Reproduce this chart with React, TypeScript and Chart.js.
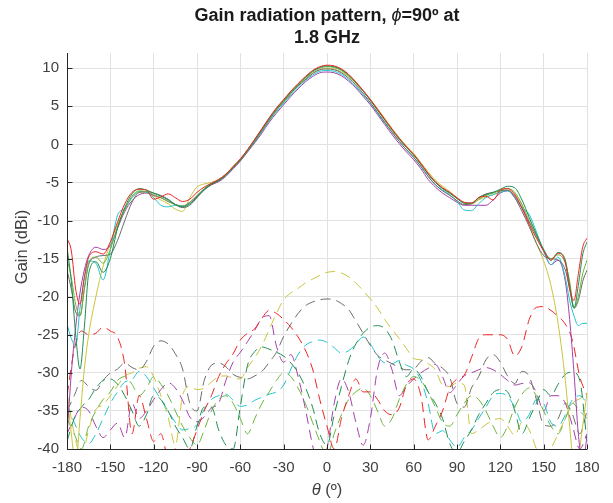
import React, { useEffect, useRef } from 'react';
import { Chart, registerables } from 'chart.js';
Chart.register(...registerables);

// ---------- data ----------
const TITLE_LINE1_A = 'Gain radiation pattern, ';
const TITLE_LINE1_PHI = 'ϕ';
const TITLE_LINE1_B = '=90º at';
const TITLE_LINE2 = '1.8 GHz';
const X_LABEL_SYM = 'θ';
const X_LABEL_REST = ' (º)';
const Y_LABEL = 'Gain (dBi)';

const X_TICKS = [-180, -150, -120, -90, -60, -30, 0, 30, 60, 90, 120, 150, 180];
const Y_TICKS = [-40, -35, -30, -25, -20, -15, -10, -5, 0, 5, 10];
const Y_MIN = -40;
const Y_MAX = 12;

// co-polar (solid) angle grid
const S_THETA = [
  -180, -177, -174, -171, -168,
  -165, -160, -155, -150, -145, -140, -135, -130, -125, -120, -115, -110,
  -105, -100, -95, -90, -85, -80, -75, -70, -65, -60, -55, -50,
  -45, -40, -35, -30, -25, -20, -15, -10, -5, 0, 5, 10,
  15, 20, 25, 30, 35, 40, 45, 50, 55, 60, 65, 70,
  75, 80, 85, 90, 95, 100, 105, 110, 115, 120, 125, 130,
  135, 140, 145, 150, 155, 160, 165,
  168, 171, 174, 177, 180,
];

const RED_CO = [
  -12.3, -14, -19, -21, -17.5,
  -14.8, -14.1, -14.4, -12.8, -10.2, -7.8, -6.3, -5.9, -6.0, -7.2, -6.9, -6.5,
  -7.0, -7.5, -7.2, -6.3, -5.6, -5.1, -4.6, -3.9, -2.9, -1.9, -0.7, 0.7,
  2.1, 3.5, 4.8, 5.9, 7.0, 8.0, 8.9, 9.7, 10.2, 10.4, 10.3, 9.9,
  9.2, 8.2, 7.1, 5.9, 4.6, 3.3, 2.0, 0.8, -0.3, -1.3, -2.5, -3.8,
  -4.9, -5.7, -6.3, -7.0, -7.6, -7.7, -7.0, -6.8, -7.3, -6.0, -5.8, -6.6,
  -8.4, -10.5, -12.3, -14.0, -15.2, -14.3, -15.5,
  -19, -20.5, -17, -13.5, -12.3,
];
const DKGREEN_CO = [
  -13.5, -18, -25, -29.5, -24,
  -17, -15.4, -16.8, -15, -11, -8.3, -6.5, -5.8, -6.0, -6.4, -6.8, -7.3,
  -7.9, -8.2, -7.8, -6.9, -5.9, -5.2, -4.7, -4.0, -3.0, -2.0, -0.7, 0.6,
  2.0, 3.4, 4.7, 5.8, 6.9, 7.9, 8.8, 9.6, 10.1, 10.3, 10.2, 9.8,
  9.1, 8.1, 7.0, 5.8, 4.5, 3.2, 1.9, 0.7, -0.4, -1.4, -2.6, -3.9,
  -5.0, -5.8, -6.4, -7.1, -7.7, -7.7, -7.0, -6.6, -6.3, -5.9, -5.5, -5.7,
  -7.3, -9.6, -11.8, -13.8, -15.2, -14.2, -15.2,
  -18.5, -21.5, -18.5, -14.5, -12.8,
];
const LTGREEN_CO = [
  -15.0, -17.5, -21, -22.5, -19,
  -15.5, -14.8, -15.6, -13.8, -10.8, -8.6, -6.8, -6.1, -6.2, -6.6, -7.0, -7.5,
  -7.9, -8.1, -7.6, -6.7, -5.8, -5.1, -4.7, -4.0, -3.0, -2.0, -0.8, 0.5,
  1.9, 3.3, 4.6, 5.7, 6.8, 7.8, 8.7, 9.5, 10.0, 10.2, 10.1, 9.7,
  9.0, 8.1, 7.0, 5.8, 4.5, 3.2, 1.9, 0.7, -0.4, -1.4, -2.6, -3.9,
  -5.0, -5.8, -6.4, -7.1, -7.7, -7.8, -7.2, -6.7, -6.4, -6.0, -5.8, -6.3,
  -7.9, -10.0, -12.0, -13.9, -15.0, -14.5, -15.6,
  -18, -21.5, -20, -17, -15.2,
];
const GRAY_CO = [
  -16.5, -19, -22, -22.5, -19,
  -15.8, -14.8, -14.6, -14.4, -12.6, -10.0, -7.6, -6.3, -6.2, -6.4, -6.7, -7.2,
  -7.9, -8.3, -8.0, -7.0, -6.0, -5.3, -4.8, -4.1, -3.1, -2.1, -0.9, 0.4,
  1.8, 3.2, 4.5, 5.6, 6.7, 7.7, 8.5, 9.3, 9.8, 9.9, 9.8, 9.4,
  8.7, 7.8, 6.7, 5.5, 4.2, 2.9, 1.6, 0.4, -0.7, -1.7, -2.9, -4.2,
  -5.3, -6.1, -6.7, -7.4, -7.9, -7.8, -7.0, -6.5, -6.3, -6.1, -6.0, -7.0,
  -8.8, -10.8, -13.0, -14.6, -15.0, -15.2, -16.5,
  -19, -21.5, -20.5, -18, -16.5,
];
const CYAN_CO = [
  -23.6, -25.5, -26.5, -21.5, -17.5,
  -15.3, -15.6, -17.8, -13.8, -9.3, -8.4, -7.0, -6.2, -6.3, -7.0, -8.0, -8.2,
  -8.0, -8.1, -7.8, -6.9, -5.9, -5.2, -4.8, -4.1, -3.1, -2.1, -0.9, 0.3,
  1.7, 3.1, 4.3, 5.4, 6.5, 7.5, 8.4, 9.1, 9.6, 9.7, 9.6, 9.2,
  8.5, 7.6, 6.5, 5.4, 4.1, 2.8, 1.6, 0.4, -0.7, -1.7, -2.9, -4.2,
  -5.3, -6.0, -6.6, -7.5, -8.6, -8.7, -7.8, -7.0, -6.6, -6.3, -6.1, -7.0,
  -8.3, -9.2, -11.5, -14.0, -15.8, -14.8, -17.5,
  -20.5, -22.5, -23.8, -23.5, -23.5,
];
const MAGENTA_CO = [
  -38.3, -30, -24, -19.5, -16.5,
  -14.6, -13.5, -13.8, -13.3, -11.0, -8.8, -7.4, -6.6, -6.4, -6.7, -7.0, -7.5,
  -7.9, -8.1, -7.6, -6.8, -5.9, -5.3, -4.9, -4.2, -3.2, -2.2, -1.0, 0.2,
  1.5, 2.9, 4.1, 5.2, 6.3, 7.3, 8.2, 8.9, 9.4, 9.5, 9.4, 9.0,
  8.3, 7.4, 6.3, 5.2, 3.9, 2.6, 1.3, 0.1, -1.0, -2.0, -3.2, -4.6,
  -5.6, -6.4, -7.0, -7.6, -8.0, -8.0, -8.0, -8.0, -7.3, -6.4, -6.1, -6.8,
  -8.3, -10.2, -12.0, -14.0, -15.8, -15.2, -18,
  -23, -30, -38, -42, -38.3,
];
const YELLOW_CO = [
  -32.6, -38, -42, -36, -29.5,
  -25, -20, -16, -13, -10.5, -8.5, -7.0, -6.3, -6.3, -6.8, -7.3, -7.8,
  -8.5, -8.8, -7.0, -5.6, -5.2, -5.0, -4.6, -3.9, -2.9, -1.9, -0.7, 0.6,
  1.9, 3.3, 4.5, 5.6, 6.7, 7.7, 8.6, 9.3, 9.8, 10.0, 9.9, 9.5,
  8.9, 8.0, 7.0, 5.9, 4.7, 3.4, 2.1, 0.9, -0.2, -1.2, -2.4, -3.6,
  -4.7, -5.5, -6.2, -7.0, -7.7, -7.8, -7.3, -6.9, -6.6, -6.2, -6.0, -6.5,
  -8.0, -10.5, -13.0, -15.3, -18.5, -23.5, -31,
  -37, -42, -41, -37, -32.6,
];

// cross-polar (dashed) angle grid
const D_THETA = [
  -180, -175, -170, -165, -160, -155, -150, -145, -140, -135, -130, -125,
  -120, -115, -110, -105, -100, -95, -90, -85, -80, -75, -70, -65,
  -60, -55, -50, -45, -40, -35, -30, -25, -20, -15, -10, -5,
  0, 5, 10, 15, 20, 25, 30, 35, 40, 45, 50, 55,
  60, 65, 70, 75, 80, 85, 90, 95, 100, 105, 110, 115,
  120, 125, 130, 135, 140, 145, 150, 155, 160, 165, 170, 175,
  180,
];
const RED_X = [
  -33, -27, -24.5, -25, -24.8, -24, -24.5, -25.3, -29, -38, -33, -36,
  -39, -38, -41, -40, -42, -40, -37.5, -35, -33, -30.5, -28.8, -27.5,
  -25.7, -24.8, -24.2, -22.8, -21.8, -22.2, -23, -24, -25.3, -27, -29.5, -33.5,
  -37, -40, -36, -33, -30.8, -32.5, -32.5, -33.5, -35, -35.5, -34.6, -31.6,
  -30.8, -33, -38.8, -37, -35, -32, -30.8, -30.3, -28, -25.5, -25, -25,
  -25, -25.6, -27.8, -26.5, -23, -21.4, -21.3, -21.8, -22.6, -23.6, -25.8, -30.5,
  -33,
];
const GRAY_X = [
  -35, -33, -31, -31.8, -32.3, -31, -30, -29.5, -28.7, -29.3, -29.6, -28.5,
  -26.5, -25.8, -26.2, -27.5, -29.5, -34, -35, -31, -29, -28.7, -29.2, -30.2,
  -30.6, -30.8, -30.4, -29.8, -28.6, -27.3, -25.2, -23.6, -22.2, -21.2, -20.7, -20.4,
  -20.3, -20.4, -20.9, -21.7, -23.2, -24.8, -26.4, -27.7, -28.3, -28.8, -29.3, -29.6,
  -29.5, -28.5, -28, -28.8, -29.4, -30.6, -34, -34.5, -32, -30.5, -28.3, -27.6,
  -28.6, -30.4, -31.4, -29.8, -30.5, -33.5, -36.8, -37, -36, -34, -35.5, -38,
  -35,
];
const YELLOW_X = [
  -32.7, -38, -41, -37.5, -34.8, -34.2, -33, -31.7, -30.4, -30, -29.4, -29.2,
  -30.5, -33, -35.8, -39.5, -33, -31.8, -32.2, -32, -31.2, -30.5, -30.4, -30.7,
  -30.8, -29.3, -28, -26.4, -24.3, -22.2, -20.4, -19.5, -18.9, -18.2, -17.7, -17.2,
  -16.8, -16.7, -16.9, -17.4, -18.2, -19.2, -20.3, -21.5, -23, -24.3, -25.5, -26.8,
  -28.1, -28.3, -28.8, -29.6, -31.6, -31.8, -31.3, -31.6, -38, -37.5, -36.8, -36.2,
  -36, -37, -38.2, -36.5, -37.5, -40, -42, -40, -38, -36, -34, -33.4,
  -32.7,
];
const CYAN_X = [
  -34, -36.5, -38.5, -39.3, -38, -36, -34, -32.5, -31.2, -30.9, -29.8, -30.5,
  -32, -33.5, -35, -36.5, -37.5, -37.3, -36.8, -34.8, -33.5, -33, -32.8, -33.6,
  -34.4, -34.2, -33.6, -33.2, -32.8, -32.5, -31.6, -29.5, -27.6, -26.4, -25.9, -25.7,
  -26, -26.7, -27.4, -27.1, -26.2, -25.3, -26.2, -27.8, -28.7, -28.8, -28.4, -29,
  -29.5, -31, -34, -38, -37.6, -38.8, -39.8, -38.5, -37.5, -36, -34.5, -33,
  -32.7, -33.1, -34.5, -36.5, -35.5, -33.5, -34, -36.5, -37, -35.5, -33.5, -33,
  -34,
];
const MAGENTA_X = [
  -38, -36, -34.5, -35, -37, -38.5, -37.5, -36.6, -38.5, -34, -36, -35,
  -33.5, -32.2, -31.3, -32, -33.6, -35.8, -36.4, -35.8, -34.6, -34, -31, -28.6,
  -27.3, -25.9, -24.4, -22.8, -22.5, -26.5, -28.6, -27.6, -30.5, -34.7, -39.5, -43,
  -40, -34, -30.8, -32.5, -36.5, -39.5, -36, -29.5, -27.4, -29.6, -33, -31.8,
  -30.8, -30, -29.4, -28.9, -30.5, -32.6, -31.5, -30.4, -30, -29.6, -29.3, -29.6,
  -30.2, -31, -31.6, -31.4, -31.3, -32.6, -35, -33, -33, -34, -37, -40,
  -38,
];
const DKGREEN_X = [
  -39, -36, -34.5, -33.5, -32, -31, -30.8, -31.5, -33, -35, -37, -35.5,
  -33, -33.5, -35, -37, -38.5, -40, -37, -34.5, -34.5, -37.5, -39.5, -40,
  -34.4, -29, -27.2, -26.6, -26.9, -27.3, -27.8, -28.7, -30, -31.9, -34.5, -38,
  -39.5, -35.5, -31.8, -28.4, -26.2, -24.8, -24, -23.8, -24.2, -25.7, -28.5, -30.5,
  -29.5, -30.5, -32.5, -34, -36, -39.3, -40.5, -39, -37.5, -35.5, -34, -32.6,
  -32.2, -32.5, -35, -38, -36, -34, -32.2, -33, -31.5, -30.2, -29.9, -31,
  -39,
];
const LTGREEN_X = [
  -36, -38, -40, -37, -35, -33.5, -32.5, -31, -30.5, -31.5, -33, -32,
  -30.5, -31.5, -33, -35, -37, -38.5, -39.5, -37.5, -35, -33.5, -33, -34,
  -36, -38, -36, -34, -32.5, -31, -30, -30.5, -32, -34, -36.5, -39,
  -41, -38, -35.5, -33.5, -32.5, -32, -33, -35, -37, -36, -33.5, -31.5,
  -30.5, -31, -32.5, -34.5, -36.5, -37, -35.5, -34, -33, -33.5, -35, -37,
  -38.5, -37, -34.5, -32.8, -32, -33, -35, -37, -38, -36, -34, -35,
  -36,
];

const C_RED = '#ee2424';
const C_DKGREEN = '#1e8c50';
const C_LTGREEN = '#6ab43c';
const C_GRAY = '#6a6a6a';
const C_CYAN = '#22c2cc';
const C_MAGENTA = '#a43fa8';
const C_YELLOW = '#c8c43a';

const FONT = "'Liberation Sans', Arial, Helvetica, sans-serif";
const AXIS_COLOR = '#262626';
const TEXT_COLOR = '#404040';
const GRID_COLOR = '#e2e2e2';

function pts(theta: number[], vals: number[]) {
  return theta.map((t, i) => ({ x: t, y: vals[i] }));
}

function drawSegs(ctx: CanvasRenderingContext2D, segs: { t: string; f: string }[], cx: number, y: number) {
  const widths = segs.map((s) => {
    ctx.font = s.f;
    return ctx.measureText(s.t).width;
  });
  const total = widths.reduce((a, b) => a + b, 0);
  let x = cx - total / 2;
  segs.forEach((s, i) => {
    ctx.font = s.f;
    ctx.fillText(s.t, x, y);
    x += widths[i];
  });
}

const decorPlugin = {
  id: 'matlabDecor',
  afterDatasetsDraw(chart: any) {
    const { ctx, chartArea: a, scales } = chart;
    ctx.save();
    const L = Math.round(a.left) + 0.5;
    const B = Math.round(a.bottom) + 0.5;
    ctx.strokeStyle = AXIS_COLOR;
    ctx.lineWidth = 1;
    ctx.beginPath();
    ctx.moveTo(L, a.top);
    ctx.lineTo(L, B);
    ctx.lineTo(a.right, B);
    ctx.stroke();
    ctx.beginPath();
    X_TICKS.forEach((v) => {
      const x = Math.round(scales.x.getPixelForValue(v)) + 0.5;
      ctx.moveTo(x, B);
      ctx.lineTo(x, B - 5);
    });
    Y_TICKS.forEach((v) => {
      const y = Math.round(scales.y.getPixelForValue(v)) + 0.5;
      ctx.moveTo(L, y);
      ctx.lineTo(L + 5, y);
    });
    ctx.stroke();

    const cx = (a.left + a.right) / 2;
    ctx.fillStyle = '#1a1a1a';
    ctx.textBaseline = 'middle';
    ctx.textAlign = 'left';
    drawSegs(ctx, [
      { t: TITLE_LINE1_A, f: `bold 18px ${FONT}` },
      { t: TITLE_LINE1_PHI, f: `italic 18px ${FONT}` },
      { t: TITLE_LINE1_B, f: `bold 18px ${FONT}` },
    ], cx, 16);
    drawSegs(ctx, [{ t: TITLE_LINE2, f: `bold 18px ${FONT}` }], cx, 38);

    ctx.fillStyle = TEXT_COLOR;
    drawSegs(ctx, [
      { t: X_LABEL_SYM, f: `italic 16.5px ${FONT}` },
      { t: X_LABEL_REST, f: `16.5px ${FONT}` },
    ], cx, 490);

    ctx.save();
    ctx.translate(22, (a.top + a.bottom) / 2 - 4);
    ctx.rotate(-Math.PI / 2);
    ctx.textAlign = 'center';
    ctx.font = `16.5px ${FONT}`;
    ctx.fillText(Y_LABEL, 0, 0);
    ctx.restore();
    ctx.restore();
  },
};

export default function App() {
  const ref = useRef<HTMLCanvasElement>(null);
  useEffect(() => {
    if (!ref.current) return;
    const solid = (label: string, color: string, vals: number[]) => ({
      label,
      data: pts(S_THETA, vals),
      borderColor: color,
      backgroundColor: color,
      borderWidth: 1,
      pointRadius: 0,
      fill: false,
      cubicInterpolationMode: 'monotone' as const,
    });
    const dashed = (label: string, color: string, vals: number[]) => ({
      label,
      data: pts(D_THETA, vals),
      borderColor: color,
      backgroundColor: color,
      borderWidth: 1,
      borderDash: [10, 6],
      pointRadius: 0,
      fill: false,
      cubicInterpolationMode: 'monotone' as const,
    });
    const chart = new Chart(ref.current, {
      type: 'line',
      data: {
        datasets: [
          solid('Red co', C_RED, RED_CO),
          solid('Dark green co', C_DKGREEN, DKGREEN_CO),
          solid('Light green co', C_LTGREEN, LTGREEN_CO),
          solid('Gray co', C_GRAY, GRAY_CO),
          solid('Cyan co', C_CYAN, CYAN_CO),
          solid('Magenta co', C_MAGENTA, MAGENTA_CO),
          solid('Yellow co', C_YELLOW, YELLOW_CO),
          dashed('Red cx', C_RED, RED_X),
          dashed('Dark green cx', C_DKGREEN, DKGREEN_X),
          dashed('Light green cx', C_LTGREEN, LTGREEN_X),
          dashed('Gray cx', C_GRAY, GRAY_X),
          dashed('Cyan cx', C_CYAN, CYAN_X),
          dashed('Magenta cx', C_MAGENTA, MAGENTA_X),
          dashed('Yellow cx', C_YELLOW, YELLOW_X),
        ],
      },
      options: {
        responsive: false,
        animation: false,
        devicePixelRatio: 1,
        layout: { padding: { top: 53, right: 26, left: 0, bottom: 0 } },
        plugins: { legend: { display: false }, tooltip: { enabled: false }, title: { display: false } },
        scales: {
          x: {
            type: 'linear',
            min: -180,
            max: 180,
            afterBuildTicks: (s: any) => {
              s.ticks = X_TICKS.map((v) => ({ value: v }));
            },
            afterFit: (s: any) => {
              s.height = 54;
            },
            grid: { color: GRID_COLOR, drawTicks: false, lineWidth: 1 },
            border: { display: false },
            ticks: {
              color: TEXT_COLOR,
              font: { family: FONT, size: 15 },
              padding: 10,
              maxRotation: 0,
              autoSkip: false,
            },
          },
          y: {
            type: 'linear',
            min: Y_MIN,
            max: Y_MAX,
            afterBuildTicks: (s: any) => {
              s.ticks = Y_TICKS.map((v) => ({ value: v }));
            },
            afterFit: (s: any) => {
              s.width = 67;
            },
            grid: { color: GRID_COLOR, drawTicks: false, lineWidth: 1 },
            border: { display: false },
            ticks: {
              color: TEXT_COLOR,
              font: { family: FONT, size: 15 },
              padding: 8,
              autoSkip: false,
            },
          },
        },
      },
      plugins: [decorPlugin],
    });
    return () => chart.destroy();
  }, []);
  return (
    <div style={{ position: 'absolute', left: 0, top: 0, width: 613, height: 503, background: '#fff' }}>
      <canvas ref={ref} width={613} height={503} style={{ display: 'block', width: 613, height: 503 }} />
    </div>
  );
}
